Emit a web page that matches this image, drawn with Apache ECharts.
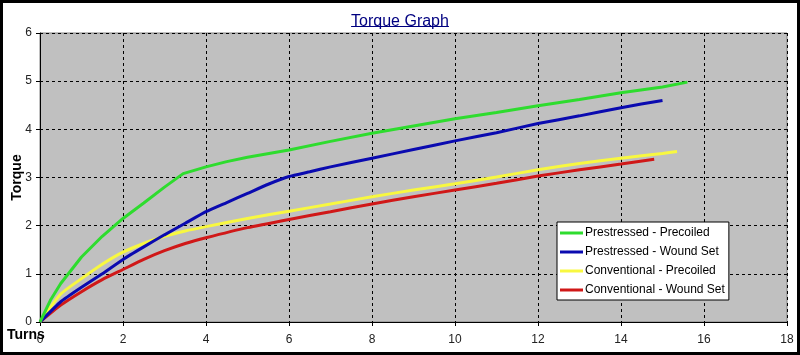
<!DOCTYPE html>
<html><head><meta charset="utf-8">
<script src="https://cdn.jsdelivr.net/npm/echarts@6/dist/echarts.min.js"></script>
<style>html,body{margin:0;padding:0;background:#fff}#c{width:800px;height:355px}</style>
</head><body><div id="c"></div>
<script>
const titleText = 'Torque Graph';
const xName = 'Turns';
const yName = 'Torque';
const xTicks = {min: 0, max: 18, interval: 2};
const yTicks = {min: 0, max: 6, interval: 1};

const seriesNames = ['Prestressed - Precoiled', 'Prestressed - Wound Set', 'Conventional - Precoiled', 'Conventional - Wound Set'];

const prestressedPrecoiled = [[0,0],[0.25,0.45],[0.5,0.8],[1,1.35],[1.5,1.78],[2,2.15],[2.5,2.47],[3,2.8],[3.45,3.08],[4,3.22],[4.5,3.33],[5,3.42],[6,3.57],[7,3.75],[8,3.92],[9,4.07],[10,4.22],[11,4.35],[12,4.49],[13,4.62],[14,4.76],[15,4.88],[15.6,4.98]];
const prestressedWoundSet = [[0,0],[0.5,0.42],[1,0.72],[1.5,1.0],[2,1.3],[2.5,1.56],[3,1.81],[3.5,2.05],[4,2.29],[4.5,2.48],[5,2.67],[5.5,2.86],[6,3.02],[6.5,3.12],[7,3.22],[8,3.4],[9,3.58],[10,3.76],[11,3.93],[12,4.12],[13,4.28],[14,4.45],[15,4.6]];
const conventionalPrecoiled = [[0,0],[0.5,0.58],[1,0.9],[1.5,1.2],[2,1.45],[2.5,1.63],[3,1.78],[3.5,1.89],[4,1.98],[5,2.15],[6,2.3],[7,2.45],[8,2.6],[9,2.74],[10,2.87],[11,3.01],[12,3.16],[13,3.29],[14,3.4],[15,3.5],[15.35,3.54]];
const conventionalWoundSet = [[0,0],[0.5,0.35],[1,0.63],[1.5,0.88],[2,1.09],[2.5,1.3],[3,1.48],[3.5,1.63],[4,1.75],[5,1.96],[6,2.13],[7,2.29],[8,2.45],[9,2.6],[10,2.74],[11,2.88],[12,3.03],[13,3.16],[14,3.28],[14.8,3.38]];

const seriesData = [prestressedPrecoiled, prestressedWoundSet, conventionalPrecoiled, conventionalWoundSet];
const colors = ['#2edc2e', '#0a0ab0', '#f8f840', '#d01818'];
const smoothing = [false, 0.15, 0.2, 0.2];

const font = 'Liberation Sans, Arial, sans-serif';
const titleFontSize = 16;
const mctx = document.createElement('canvas').getContext('2d');
mctx.font = titleFontSize + 'px ' + font;
const titleWidth = mctx.measureText(titleText).width;

const chart = echarts.init(document.getElementById('c'), null, {renderer: 'canvas'});
chart.setOption({
  animation: false,
  backgroundColor: '#fff',
  textStyle: {fontFamily: font},
  title: {
    text: titleText, left: 'center', top: 9,
    textStyle: {fontFamily: font, fontSize: titleFontSize, fontWeight: 'normal', color: '#000080'}
  },
  grid: {left: 40, right: 13, top: 33, bottom: 33, outerBoundsMode: 'none', containLabel: false, show: true, backgroundColor: '#c0c0c0', borderColor: '#808080', borderWidth: 1},
  legend: {
    orient: 'vertical', left: 557, top: 222,
    backgroundColor: '#fff', borderColor: '#000', borderWidth: 1,
    padding: [4, 4, 3, 3], itemGap: 5, itemWidth: 23, itemHeight: 3, icon: 'rect',
    textStyle: {fontFamily: font, fontSize: 12, color: '#000', lineHeight: 14, padding: [0,0,0,-3]},
    data: seriesNames
  },
  xAxis: {
    type: 'value', min: xTicks.min, max: xTicks.max, interval: xTicks.interval,
    axisLine: {show: true, onZero: false, lineStyle: {color: '#000', width: 1}},
    axisTick: {show: true, length: 4, lineStyle: {color: '#000'}},
    axisLabel: {margin: 12, fontSize: 12, color: '#222', fontFamily: font},
    splitLine: {show: true, lineStyle: {color: '#000', type: [3, 3], width: 1}}
  },
  yAxis: {
    type: 'value', min: yTicks.min, max: yTicks.max, interval: yTicks.interval,
    name: yName, nameLocation: 'middle', nameGap: 16, nameRotate: 90, nameMoveOverlap: false,
    nameTextStyle: {fontFamily: font, fontSize: 14, fontWeight: 'bold', color: '#000'},
    axisLine: {show: true, lineStyle: {color: '#000', width: 1}},
    axisTick: {show: true, length: 4, lineStyle: {color: '#000'}},
    axisLabel: {margin: 8, fontSize: 12, color: '#222', fontFamily: font},
    splitLine: {show: true, lineStyle: {color: '#000', type: [3, 3], width: 1}}
  },
  graphic: [
    {type: 'rect', shape: {x: 1.5, y: 1.5, width: 797, height: 352}, style: {fill: 'none', stroke: '#000', lineWidth: 3}, z: 100},
    {type: 'text', left: 7, top: 328, style: {text: xName, font: 'bold 14px ' + font, fill: '#000'}, z: 50},
    {type: 'line', shape: {x1: 400 - titleWidth / 2, y1: 26.5, x2: 400 + titleWidth / 2, y2: 26.5}, style: {stroke: '#000080', lineWidth: 1}, z: 50}
  ],
  series: seriesData.map((d, i) => ({
    name: seriesNames[i], type: 'line', data: d, symbol: 'none', smooth: smoothing[i],
    lineStyle: {color: colors[i], width: 3}, itemStyle: {color: colors[i]}, z: 10 - i
  }))
});
</script>
</body></html>
